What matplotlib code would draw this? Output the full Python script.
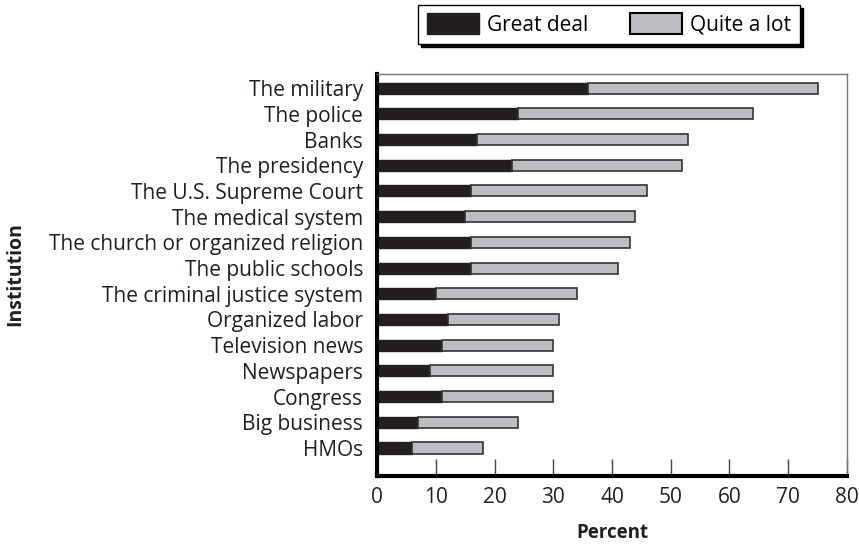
import matplotlib.pyplot as plt
from matplotlib.patches import Patch

institutions = ['The military', 'The police', 'Banks', 'The presidency',
                'The U.S. Supreme Court', 'The medical system',
                'The church or organized religion', 'The public schools',
                'The criminal justice system', 'Organized labor',
                'Television news', 'Newspapers', 'Congress', 'Big business', 'HMOs']
great_deal = [36, 24, 17, 23, 16, 15, 16, 16, 10, 12, 11, 9, 11, 7, 6]
total = [75, 64, 53, 52, 46, 44, 43, 41, 34, 31, 30, 30, 30, 24, 18]
quite_a_lot = [t - g for t, g in zip(total, great_deal)]

dark = '#231f20'
light = '#bcbdc0'

plt.rcParams['font.family'] = ['Open Sans', 'DejaVu Sans']

fig = plt.figure(figsize=(8.59, 5.48), dpi=100)
ax = fig.add_axes([0.4389, 0.1314, 0.5471, 0.7336])

y = list(range(len(institutions) - 1, -1, -1))
ax.barh(y, great_deal, height=0.43, color=dark, edgecolor=dark, linewidth=1)
ax.barh(y, quite_a_lot, left=great_deal, height=0.43, color=light,
        edgecolor='#333333', linewidth=1.2)

ax.set_xlim(0, 80)
ax.set_ylim(-1.09, 14.55)
ax.set_xticks(range(0, 81, 10))
ax.set_yticks(y)
ax.set_yticklabels(institutions, fontsize=15, color='#231f20')
ax.tick_params(axis='x', direction='in', length=12, width=1, labelsize=15,
               pad=8, color='#444444', labelcolor='#231f20')
ax.tick_params(axis='y', length=0, pad=10)
ax.spines['left'].set_linewidth(3)
ax.spines['bottom'].set_linewidth(3)
ax.spines['left'].set_color('black')
ax.spines['bottom'].set_color('black')
ax.spines['top'].set_linewidth(1)
ax.spines['right'].set_linewidth(1)
ax.spines['top'].set_color('#777777')
ax.spines['right'].set_color('#777777')

ax.set_xlabel('Percent', fontsize=13.5, fontweight='bold', labelpad=11,
              color='#231f20')
fig.text(0.018, 0.5, 'Institution', rotation=90, fontsize=14,
         fontweight='bold', ha='center', va='center', color='#231f20')

handles = [Patch(facecolor=dark, edgecolor=dark, label='Great deal'),
           Patch(facecolor=light, edgecolor='black', linewidth=1.5, label='Quite a lot')]
leg = fig.legend(handles=handles, ncol=2, loc='upper center',
                 bbox_to_anchor=(0.709, 0.991), frameon=True, fancybox=False,
                 shadow={'color': 'black', 'alpha': 1}, edgecolor='black',
                 fontsize=15, handlelength=2.5, handleheight=1.15,
                 columnspacing=2.0, borderpad=0.4, handletextpad=0.4,
                 borderaxespad=0)
leg.get_frame().set_linewidth(1)

fig.savefig('out.png', dpi=100)
